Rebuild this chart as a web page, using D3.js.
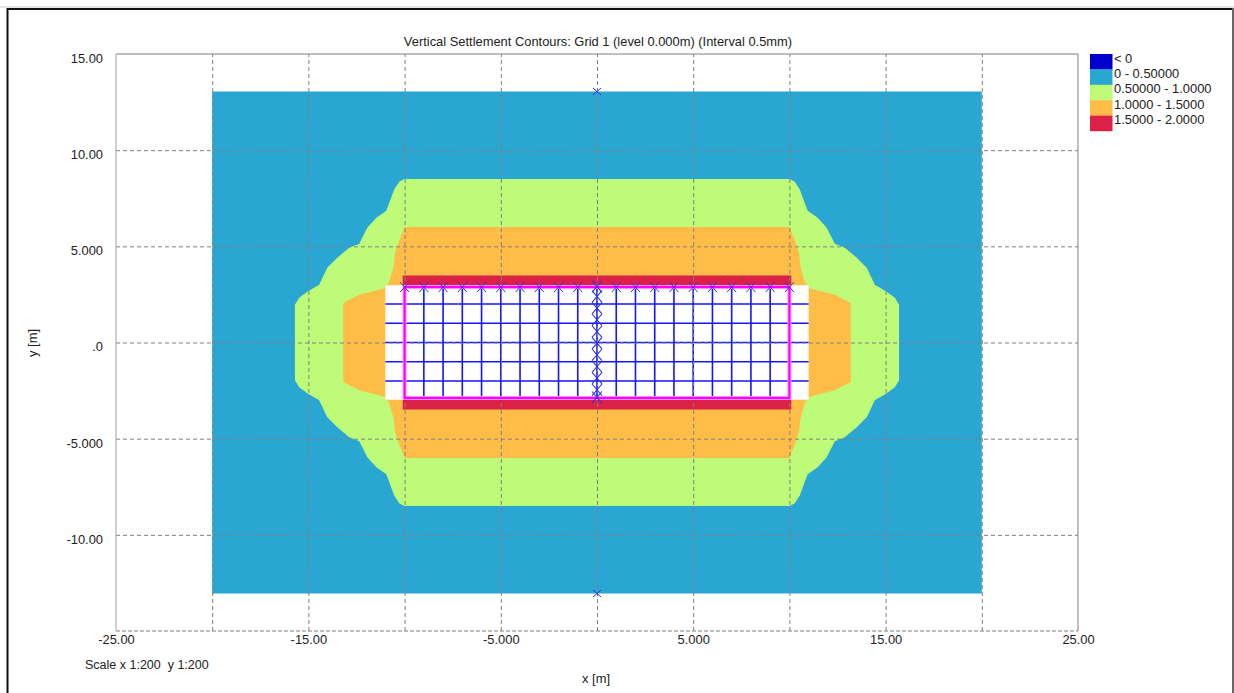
<!DOCTYPE html>
<html><head><meta charset="utf-8">
<script src="https://cdn.jsdelivr.net/npm/d3@7"></script>
<style>
html,body{margin:0;padding:0;background:#fff;overflow:hidden}
text{font-family:"Liberation Sans",Arial,sans-serif;font-size:12.9px;fill:#222}
</style></head><body><svg id="c" width="1234" height="693"></svg>
<script>
const chartTitle = "Vertical Settlement Contours: Grid 1 (level 0.000m) (Interval 0.5mm)";
const xTickValues = [-25,-15,-5,5,15,25];
const xTickLabels = ["-25.00","-15.00","-5.000","5.000","15.00","25.00"];
const yTickValues = [15,10,5,0,-5,-10];
const yTickLabels = ["15.00","10.00","5.000",".0","-5.000","-10.00"];
const xGridValues = [-20,-15,-10,-5,0,5,10,15,20];
const yGridValues = [10,5,0,-5,-10];
const legendLabels = ["< 0","0 - 0.50000","0.50000 - 1.0000","1.0000 - 1.5000","1.5000 - 2.0000"];
const legendColors = ["#0000cc","#29a6d2","#bdfb79","#ffbd47","#dc2146"];
// contour outlines: one quadrant in metres, |x|,|y|, from the y axis to the x axis
const band05Quadrant = [[0,8.5],[10.02,8.5],[10.28,8.36],[10.54,7.95],[10.95,6.85],[11.47,6.49],[11.94,5.97],[12.36,5.14],[12.88,4.93],[13.5,4.41],[14.02,3.89],[14.44,3.0],[15.06,2.64],[15.48,2.33],[15.7,1.96],[15.7,0]];
const band10Quadrant = [[0,6],[10,6],[10.3,5.25],[10.5,4.65],[10.57,3.95],[10.8,3.17],[10.88,3],[11,3],[11,2.83],[11.49,2.7],[12.36,2.48],[13.19,2.05],[13.19,0]];
const outerExtent = [20,13.05];
const whiteExtent = [11,2.98];
const redBandX = 10.1;
const redBandY = [2.98,3.48];
const wallExtent = [10,2.88];
const gridVerticals = [-9,-8,-7,-6,-5,-4,-3,-2,-1,0,1,2,3,4,5,6,7,8,9];
const gridHorizontals = [2,1,0,-1,-2];
const topMarkerX = [-10,-9,-8,-7,-6,-5,-4,-3,-2,-1,1,2,3,4,5,6,7,8,9,10];
const centreMarkerY = [2.91,2.39,1.79,1.18,0.57,-0.03,-0.64,-1.25,-1.85,-2.46,-2.85];
const endMarkerY = [13.05,-13.05];

const svg = d3.select("#c");
const x = d3.scaleLinear().domain([-25,25]).range([116,1078]);
const y = d3.scaleLinear().domain([15,-15]).range([54,631]);
const pTop = y(15), pBot = y(-15), pLeft = x(-25), pRight = x(25);

svg.append("line").attr("x1",0).attr("x2",1234).attr("y1",7).attr("y2",7).attr("stroke","#ccc");
svg.append("line").attr("x1",7).attr("x2",1233).attr("y1",9).attr("y2",9).attr("stroke","#111").attr("stroke-width",2);
svg.append("line").attr("x1",7.5).attr("x2",7.5).attr("y1",8).attr("y2",693).attr("stroke","#111").attr("stroke-width",2);
svg.append("line").attr("x1",1233).attr("x2",1233).attr("y1",8).attr("y2",693).attr("stroke","#666").attr("stroke-width",2);

const line = d3.line().x(d=>x(d[0])).y(d=>y(d[1]));
function mirrored(q){
  const rev = q.slice().reverse();
  return [].concat(
    q.map(p=>[p[0],p[1]]),
    rev.map(p=>[p[0],-p[1]]),
    q.map(p=>[-p[0],-p[1]]),
    rev.map(p=>[-p[0],p[1]]));
}
const box = (a,b)=>[[-a,b],[a,b],[a,-b],[-a,-b]];
const fills = svg.append("g");
const poly = (pts,c)=>fills.append("path").attr("d",line(pts)+"Z").attr("fill",c);
poly(box(...outerExtent),legendColors[1]);
poly(mirrored(band05Quadrant),legendColors[2]);
poly(mirrored(band10Quadrant),legendColors[3]);
poly(box(...whiteExtent),"#fff");
[1,-1].forEach(s=>poly([[-redBandX,s*redBandY[0]],[redBandX,s*redBandY[0]],[redBandX,s*redBandY[1]],[-redBandX,s*redBandY[1]]],legendColors[4]));

// foundation mesh
const mesh = svg.append("g").attr("stroke","#1414ff").attr("stroke-width",1.6).attr("fill","none");
mesh.selectAll(".v").data(gridVerticals).join("line").attr("class","v")
  .attr("x1",d=>x(d)).attr("x2",d=>x(d)).attr("y1",y(wallExtent[1])).attr("y2",y(-whiteExtent[1]));
mesh.selectAll(".h").data(gridHorizontals).join("line").attr("class","h")
  .attr("x1",x(-whiteExtent[0])).attr("x2",x(whiteExtent[0])).attr("y1",d=>y(d)).attr("y2",d=>y(d));

// grid via axes
const gx = svg.append("g").attr("transform",`translate(0,${pBot})`)
  .call(d3.axisBottom(x).tickValues(xGridValues).tickSize(-(pBot-pTop)).tickFormat(""));
const gy = svg.append("g").attr("transform",`translate(${pLeft},0)`)
  .call(d3.axisLeft(y).tickValues(yGridValues).tickSize(-(pRight-pLeft)).tickFormat(""));
[gx,gy].forEach(g=>{
  g.select(".domain").remove();
  g.selectAll("line").attr("stroke","#808080").attr("stroke-width",1).attr("stroke-dasharray","4 3");
});
svg.append("line").attr("x1",pLeft).attr("x2",pRight).attr("y1",pBot).attr("y2",pBot)
   .attr("stroke","#808080").attr("stroke-dasharray","4 2");
svg.append("line").attr("x1",pLeft).attr("x2",pRight).attr("y1",pTop).attr("y2",pTop).attr("stroke","#808080");
svg.append("line").attr("x1",pLeft).attr("x2",pLeft).attr("y1",pTop).attr("y2",pBot).attr("stroke","#a0a0a0");
svg.append("line").attr("x1",pRight).attr("x2",pRight).attr("y1",pTop).attr("y2",pBot).attr("stroke","#808080");

// wall outline, over the grid, with a pale halo
[["#ff90ff",4],["#ff00ff",2]].forEach(([c,w])=>
  svg.append("path").attr("d",line(box(...wallExtent))+"Z").attr("fill","none").attr("stroke",c).attr("stroke-width",w));

// markers
function cross(g,px,py,rx,ry,w){
  g.append("path").attr("d",`M${px-rx},${py-ry}L${px+rx},${py+ry}M${px+rx},${py-ry}L${px-rx},${py+ry}`)
   .attr("stroke","#3030f0").attr("stroke-width",w).attr("fill","none");
}
const mk = svg.append("g");
topMarkerX.forEach(v=>cross(mk,x(v),y(wallExtent[1]),4.5,5,1));
centreMarkerY.forEach(v=>cross(mk,x(0),y(v),5,5.8,1.1));
endMarkerY.forEach(v=>{cross(mk,x(0),y(v),4,3.5,1);});

// tick labels via axes
const ax = svg.append("g").attr("transform",`translate(0,${pBot})`)
  .call(d3.axisBottom(x).tickValues(xTickValues).tickSize(0).tickPadding(3.5).tickFormat((d,i)=>xTickLabels[i]));
const ay = svg.append("g").attr("transform",`translate(${pLeft},0)`)
  .call(d3.axisLeft(y).tickValues(yTickValues).tickSize(0).tickPadding(13).tickFormat((d,i)=>yTickLabels[i]));
[ax,ay].forEach(g=>{
  g.select(".domain").remove();
  g.selectAll("text").style("font-family",'"Liberation Sans",Arial,sans-serif').style("font-size","12.9px").attr("fill","#222");
});
ay.selectAll("text").attr("dy","0.65em");

svg.append("text").attr("x",598).attr("y",46).attr("text-anchor","middle").text(chartTitle);
svg.append("text").attr("x",596).attr("y",682.5).attr("text-anchor","middle").text("x [m]");
svg.append("text").attr("transform","translate(37,343) rotate(-90)").attr("text-anchor","middle").text("y [m]");
svg.append("text").attr("x",85).attr("y",668.5).style("white-space","pre").style("font-size","12.5px").text("Scale x 1:200  y 1:200");

// legend
const rowH = 15.4, lx = 1090, ly = 54;
const lg = svg.append("g");
lg.selectAll("rect").data(legendColors).join("rect")
  .attr("x",lx).attr("y",(d,i)=>ly+i*rowH).attr("width",22.5).attr("height",rowH+0.2).attr("fill",d=>d);
lg.selectAll("text").data(legendLabels).join("text")
  .attr("x",lx+24).attr("y",(d,i)=>ly+8.5+i*rowH).text(d=>d);
</script></body></html>
